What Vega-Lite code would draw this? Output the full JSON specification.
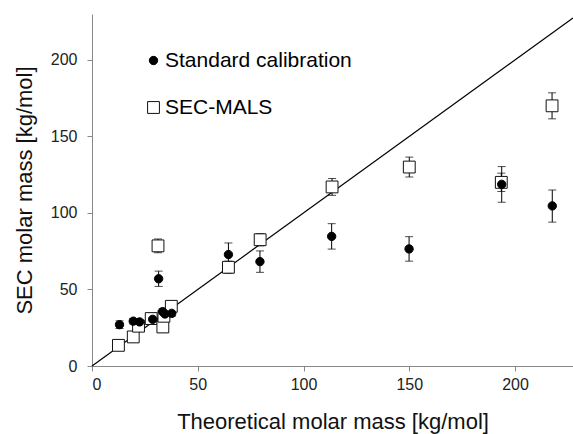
{
  "$schema": "https://vega.github.io/schema/vega-lite/v6.json",
  "width": 481,
  "height": 352,
  "autosize": {"type": "none"},
  "padding": {"left": 92, "top": 14, "right": 0, "bottom": 68},
  "background": "white",
  "config": {
    "view": {"stroke": null},
    "font": "Liberation Sans",
    "axis": {
      "grid": false,
      "domainColor": "#888888",
      "tickColor": "#888888",
      "tickSize": 5,
      "labelFont": "Liberation Sans",
      "labelFontSize": 16,
      "labelColor": "#222222",
      "titleFont": "Liberation Sans",
      "titleFontSize": 22,
      "titleFontWeight": "normal",
      "titleColor": "#111111"
    },
    "legend": {
      "title": null,
      "orient": "none",
      "legendX": 51,
      "legendY": 36,
      "padding": 0,
      "rowPadding": 25,
      "labelFont": "Liberation Sans",
      "labelFontSize": 21,
      "labelColor": "black",
      "labelOffset": 1,
      "labelLimit": 0,
      "symbolStrokeColor": "black",
      "symbolStrokeWidth": 1
    }
  },
  "datasets": {
    "pts": [
      {"series": "SEC-MALS", "x": 12.5, "y": 13.5, "lo": 12, "hi": 15.5},
      {"series": "SEC-MALS", "x": 19.5, "y": 19, "lo": 16.5, "hi": 21.5},
      {"series": "SEC-MALS", "x": 22, "y": 26, "lo": 24, "hi": 28},
      {"series": "SEC-MALS", "x": 28, "y": 31, "lo": 29, "hi": 33},
      {"series": "SEC-MALS", "x": 31.2, "y": 78.5, "lo": 74, "hi": 83},
      {"series": "SEC-MALS", "x": 33.5, "y": 25.5, "lo": 22, "hi": 29},
      {"series": "SEC-MALS", "x": 34, "y": 32.5, "lo": 30, "hi": 35},
      {"series": "SEC-MALS", "x": 37.5, "y": 39, "lo": 36.5, "hi": 41.5},
      {"series": "SEC-MALS", "x": 64.5, "y": 64.5, "lo": 60.5, "hi": 68.5},
      {"series": "SEC-MALS", "x": 79.5, "y": 82.5, "lo": 78.5, "hi": 86.5},
      {"series": "SEC-MALS", "x": 113.5, "y": 117, "lo": 111.5, "hi": 122.5},
      {"series": "SEC-MALS", "x": 150, "y": 130, "lo": 123.5, "hi": 136.5},
      {"series": "SEC-MALS", "x": 193.5, "y": 120, "lo": 114, "hi": 126},
      {"series": "SEC-MALS", "x": 217.5, "y": 170, "lo": 161.5, "hi": 178.5},
      {"series": "Standard calibration", "x": 13, "y": 27, "lo": 24.5, "hi": 29.5},
      {"series": "Standard calibration", "x": 19.5, "y": 29.3, "lo": 27.5, "hi": 31},
      {"series": "Standard calibration", "x": 22.5, "y": 28.8, "lo": 27, "hi": 30.5},
      {"series": "Standard calibration", "x": 28.7, "y": 30.5, "lo": 29, "hi": 32},
      {"series": "Standard calibration", "x": 31.5, "y": 57, "lo": 52, "hi": 62},
      {"series": "Standard calibration", "x": 33.4, "y": 35.5, "lo": 33.5, "hi": 37.5},
      {"series": "Standard calibration", "x": 34.5, "y": 34, "lo": 32, "hi": 36},
      {"series": "Standard calibration", "x": 37.7, "y": 34.4, "lo": 32.5, "hi": 36.5},
      {"series": "Standard calibration", "x": 64.5, "y": 72.8, "lo": 65.2, "hi": 80.4},
      {"series": "Standard calibration", "x": 79.4, "y": 68.2, "lo": 61.2, "hi": 75.2},
      {"series": "Standard calibration", "x": 113.3, "y": 84.7, "lo": 76.4, "hi": 93},
      {"series": "Standard calibration", "x": 149.9, "y": 76.5, "lo": 68.5, "hi": 84.5},
      {"series": "Standard calibration", "x": 193.7, "y": 118.7, "lo": 107, "hi": 130.3},
      {"series": "Standard calibration", "x": 217.6, "y": 104.6, "lo": 94, "hi": 115}
    ],
    "diag": [
      {"x": 0, "y": 0},
      {"x": 227.4, "y": 227.4}
    ]
  },
  "layer": [
    {
      "data": {"name": "diag"},
      "mark": {"type": "line", "color": "black", "strokeWidth": 1.2},
      "encoding": {
        "x": {"field": "x", "type": "quantitative", "scale": {"domain": [0, 227.4], "nice": false}, "axis": {"values": [0, 50, 100, 150, 200], "labelPadding": 5, "titlePadding": 19, "title": "Theoretical molar mass [kg/mol]"}},
        "y": {"field": "y", "type": "quantitative", "scale": {"domain": [0, 230], "nice": false}, "axis": {"values": [0, 50, 100, 150, 200], "labelPadding": 10, "titlePadding": 14, "title": "SEC molar mass [kg/mol]"}}
      }
    },
    {
      "mark": {"type": "rule", "color": "#888888", "strokeWidth": 1},
      "encoding": {"y": {"datum": 230}}
    },
    {
      "data": {"name": "pts"},
      "mark": {"type": "rule", "color": "black", "strokeWidth": 1},
      "encoding": {
        "x": {"field": "x", "type": "quantitative"},
        "y": {"field": "lo", "type": "quantitative"},
        "y2": {"field": "hi"}
      }
    },
    {
      "data": {"name": "pts"},
      "mark": {"type": "tick", "orient": "horizontal", "color": "black", "size": 8, "thickness": 1},
      "encoding": {
        "x": {"field": "x", "type": "quantitative"},
        "y": {"field": "lo", "type": "quantitative"}
      }
    },
    {
      "data": {"name": "pts"},
      "mark": {"type": "tick", "orient": "horizontal", "color": "black", "size": 8, "thickness": 1},
      "encoding": {
        "x": {"field": "x", "type": "quantitative"},
        "y": {"field": "hi", "type": "quantitative"}
      }
    },
    {
      "data": {"name": "pts"},
      "mark": {"type": "point", "filled": false, "strokeWidth": 1, "opacity": 1},
      "encoding": {
        "x": {"field": "x", "type": "quantitative"},
        "y": {"field": "y", "type": "quantitative"},
        "shape": {"field": "series", "type": "nominal", "scale": {"domain": ["Standard calibration", "SEC-MALS"], "range": ["circle", "square"]}},
        "fill": {"field": "series", "type": "nominal", "scale": {"domain": ["Standard calibration", "SEC-MALS"], "range": ["black", "white"]}},
        "stroke": {"field": "series", "type": "nominal", "scale": {"domain": ["Standard calibration", "SEC-MALS"], "range": ["black", "#111111"]}},
        "size": {"field": "series", "type": "nominal", "scale": {"domain": ["Standard calibration", "SEC-MALS"], "range": [70, 140]}}
      }
    }
  ]
}
